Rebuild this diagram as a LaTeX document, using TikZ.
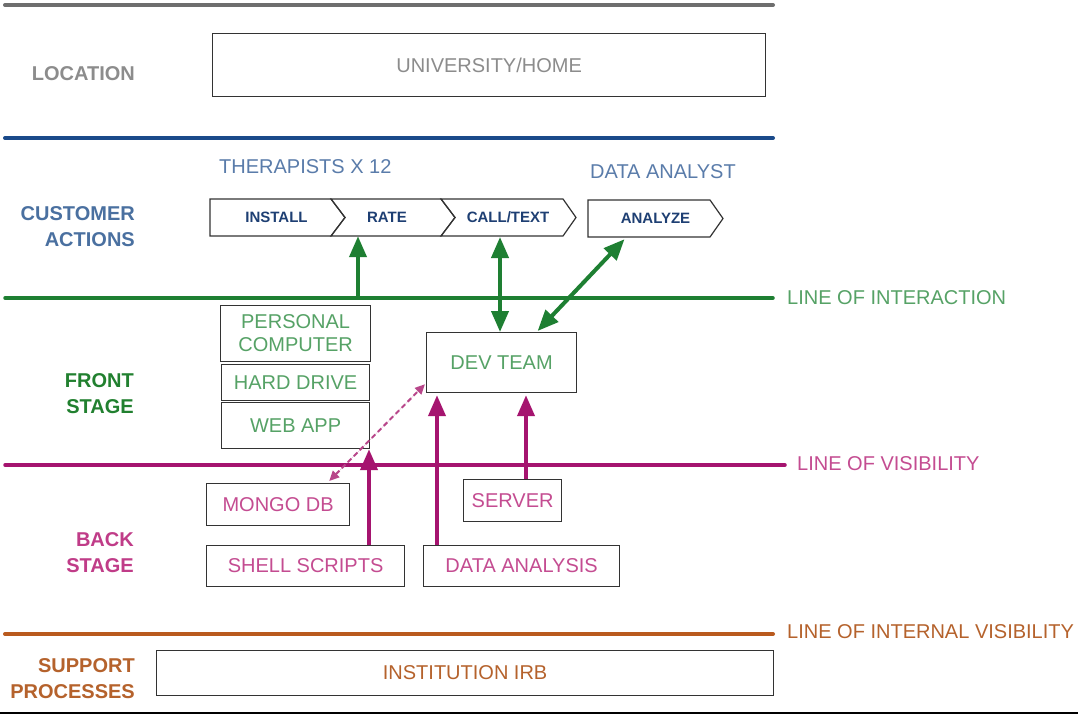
\documentclass[tikz,border=0pt]{standalone}
\usepackage{fontspec}
\setmainfont{Liberation Sans}
\usetikzlibrary{arrows.meta}

\definecolor{rulegray}{HTML}{6E6E6E}
\definecolor{txtgray}{HTML}{8C8C8C}
\definecolor{ruleblue}{HTML}{1A4A8A}
\definecolor{laneblue}{HTML}{4A70A0}
\definecolor{actorblue}{HTML}{5A7CAA}
\definecolor{navy}{HTML}{1E3F73}
\definecolor{rulegreen}{HTML}{1E7F32}
\definecolor{lanegreen}{HTML}{21802F}
\definecolor{txtgreen}{HTML}{56A266}
\definecolor{rulemag}{HTML}{A5146F}
\definecolor{dashmag}{HTML}{B8468A}
\definecolor{lanemag}{HTML}{C03C88}
\definecolor{txtmag}{HTML}{C44C91}
\definecolor{ruleorange}{HTML}{B95A1E}
\definecolor{txtorange}{HTML}{B5622C}
\definecolor{boxline}{HTML}{333333}

\begin{document}
\begin{tikzpicture}[x=1pt,y=-1pt,
  box/.style={draw=boxline, line width=1.2pt, inner sep=0pt, anchor=north west,
    align=center, font=\fontsize{20}{23}\selectfont},
  lane/.style={font=\bfseries\fontsize{20}{26}\selectfont, align=right, anchor=east, inner sep=0pt},
  linelabel/.style={font=\fontsize{20}{22}\selectfont, anchor=west, inner sep=0pt},
  actor/.style={font=\fontsize{20}{22}\selectfont, anchor=west, inner sep=0pt, text=actorblue},
  chevtext/.style={font=\bfseries\fontsize{15}{18}\selectfont, text=navy, inner sep=0pt,
    minimum height=37pt},
  chevron/.style={draw=boxline, line width=1.2pt, line join=miter},
  rule/.style={line width=#1, line cap=round},
  bigtip/.style={-{Triangle[length=21pt,width=17pt]}},
  bigtips/.style={{Triangle[length=21pt,width=17pt]}-{Triangle[length=21pt,width=17pt]}},
  garrow/.style={draw=rulegreen, line width=4pt},
  marrow/.style={draw=rulemag, line width=4pt},
  mdash/.style={draw=dashmag, fill=dashmag, line width=2pt, dash pattern=on 5pt off 3.5pt,
    {Triangle[length=10pt,width=9pt]}-{Triangle[length=10pt,width=9pt]}}
]
\useasboundingbox (0,0) rectangle (1078,714);
\fill[white] (0,0) rectangle (1078,714);

% ---- horizontal separators
\draw[rule=4pt, rulegray] (5,5) -- (773,5);
\draw[rule=4pt, ruleblue] (5,138) -- (773,138);
\draw[rule=3.5pt, rulegreen] (5,298) -- (773,298);
\draw[rule=3.5pt, rulemag] (5,465) -- (785,465);
\draw[rule=4pt, ruleorange] (5,634) -- (773,634);
\draw[line width=2pt, black] (0,712.5) -- (1078,712.5);

% ---- separator captions
\node[linelabel, text=txtgreen] (lint) at (787,298) {LINE OF INTERACTION};
\node[linelabel, text=txtmag] (lvis) at (797,464) {LINE OF VISIBILITY};
\node[linelabel, text=txtorange] (linv) at (787,632) {LINE OF INTERNAL VISIBILITY};

% ---- lane titles
\node[lane, text=txtgray] (lloc) at (135,74) {LOCATION};
\node[lane, text=laneblue] (lcust) at (135,226.5) {CUSTOMER\\ACTIONS};
\node[lane, text=lanegreen] (lfront) at (134,394) {FRONT\\STAGE};
\node[lane, text=lanemag] (lback) at (134,552.5) {BACK\\STAGE};
\node[lane, text=txtorange] (lsupp) at (135,678.5) {SUPPORT\\PROCESSES};

% ---- location
\node[box, text=txtgray, minimum width=553pt, minimum height=63pt] (home) at (212,33) {UNIVERSITY/HOME};

% ---- customer actions
\node[actor] (ther) at (219,167) {THERAPISTS X 12};
\node[actor] (analyst) at (590,172) {DATA ANALYST};

\draw[chevron] (210,199) -- (331,199) -- (345,217.5) -- (331,236) -- (210,236) -- cycle;
\draw[chevron] (331,199) -- (441,199) -- (455,217.5) -- (441,236) -- (331,236) -- (345,217.5) -- cycle;
\draw[chevron] (441,199) -- (563,199) -- (576,217.5) -- (563,236) -- (441,236) -- (455,217.5) -- cycle;
\draw[chevron] (588,200) -- (710,200) -- (723,218.5) -- (710,237) -- (588,237) -- cycle;

\node[chevtext] (install) at (276.5,217.5) {INSTALL};
\node[chevtext] (rate) at (387,217.5) {RATE};
\node[chevtext] (call) at (508,217.5) {CALL/TEXT};
\node[chevtext] (analyze) at (655.5,218.5) {ANALYZE};

% ---- front stage
\node[box, text=txtgreen, minimum width=150pt, minimum height=56pt] (pc) at (220,305) {PERSONAL\\COMPUTER};
\node[box, text=txtgreen, minimum width=148pt, minimum height=36pt] (hdd) at (221,364) {HARD DRIVE};
\node[box, text=txtgreen, minimum width=148pt, minimum height=46pt] (web) at (221,402) {WEB APP};
\node[box, text=txtgreen, minimum width=150pt, minimum height=60pt] (dev) at (426,332) {DEV TEAM};

% ---- back stage
\node[box, text=txtmag, minimum width=143pt, minimum height=42pt] (mongo) at (206,483) {MONGO DB};
\node[box, text=txtmag, minimum width=98pt, minimum height=42pt] (server) at (463,479) {SERVER};
\node[box, text=txtmag, minimum width=198pt, minimum height=41pt] (shell) at (206,545) {SHELL SCRIPTS};
\node[box, text=txtmag, minimum width=196pt, minimum height=41pt] (analysis) at (423,545) {DATA ANALYSIS};

% ---- support
\node[box, text=txtorange, minimum width=617pt, minimum height=45pt] (irb) at (156,650) {INSTITUTION IRB};

% ---- green connectors across the line of interaction
\coordinate (rateFoot) at (358,298);
\draw[garrow, bigtip] (rateFoot) -- (rateFoot |- rate.south);
\coordinate (callFoot) at (500,237);
\draw[garrow, bigtips] (callFoot) -- (callFoot |- dev.north);
\draw[garrow, bigtips] ([xshift=-31pt,yshift=-2pt]analyze.south) -- ([xshift=36pt,yshift=1pt]dev.north);

% ---- magenta connectors across the line of visibility
\coordinate (shellTop) at (369,545);
\draw[marrow, bigtip] (shellTop) -- (shellTop |- web.south);
\coordinate (anaTop) at (437,545);
\draw[marrow, bigtip] (anaTop) -- ([yshift=-2pt]anaTop |- dev.south);
\coordinate (srvTop) at (526,479);
\draw[marrow, bigtip] (srvTop) -- ([yshift=-2pt]srvTop |- dev.south);
\draw[mdash] ([xshift=-21pt,yshift=2pt]mongo.north east) -- ([xshift=-1pt,yshift=9pt]dev.south west);
\end{tikzpicture}
\end{document}
